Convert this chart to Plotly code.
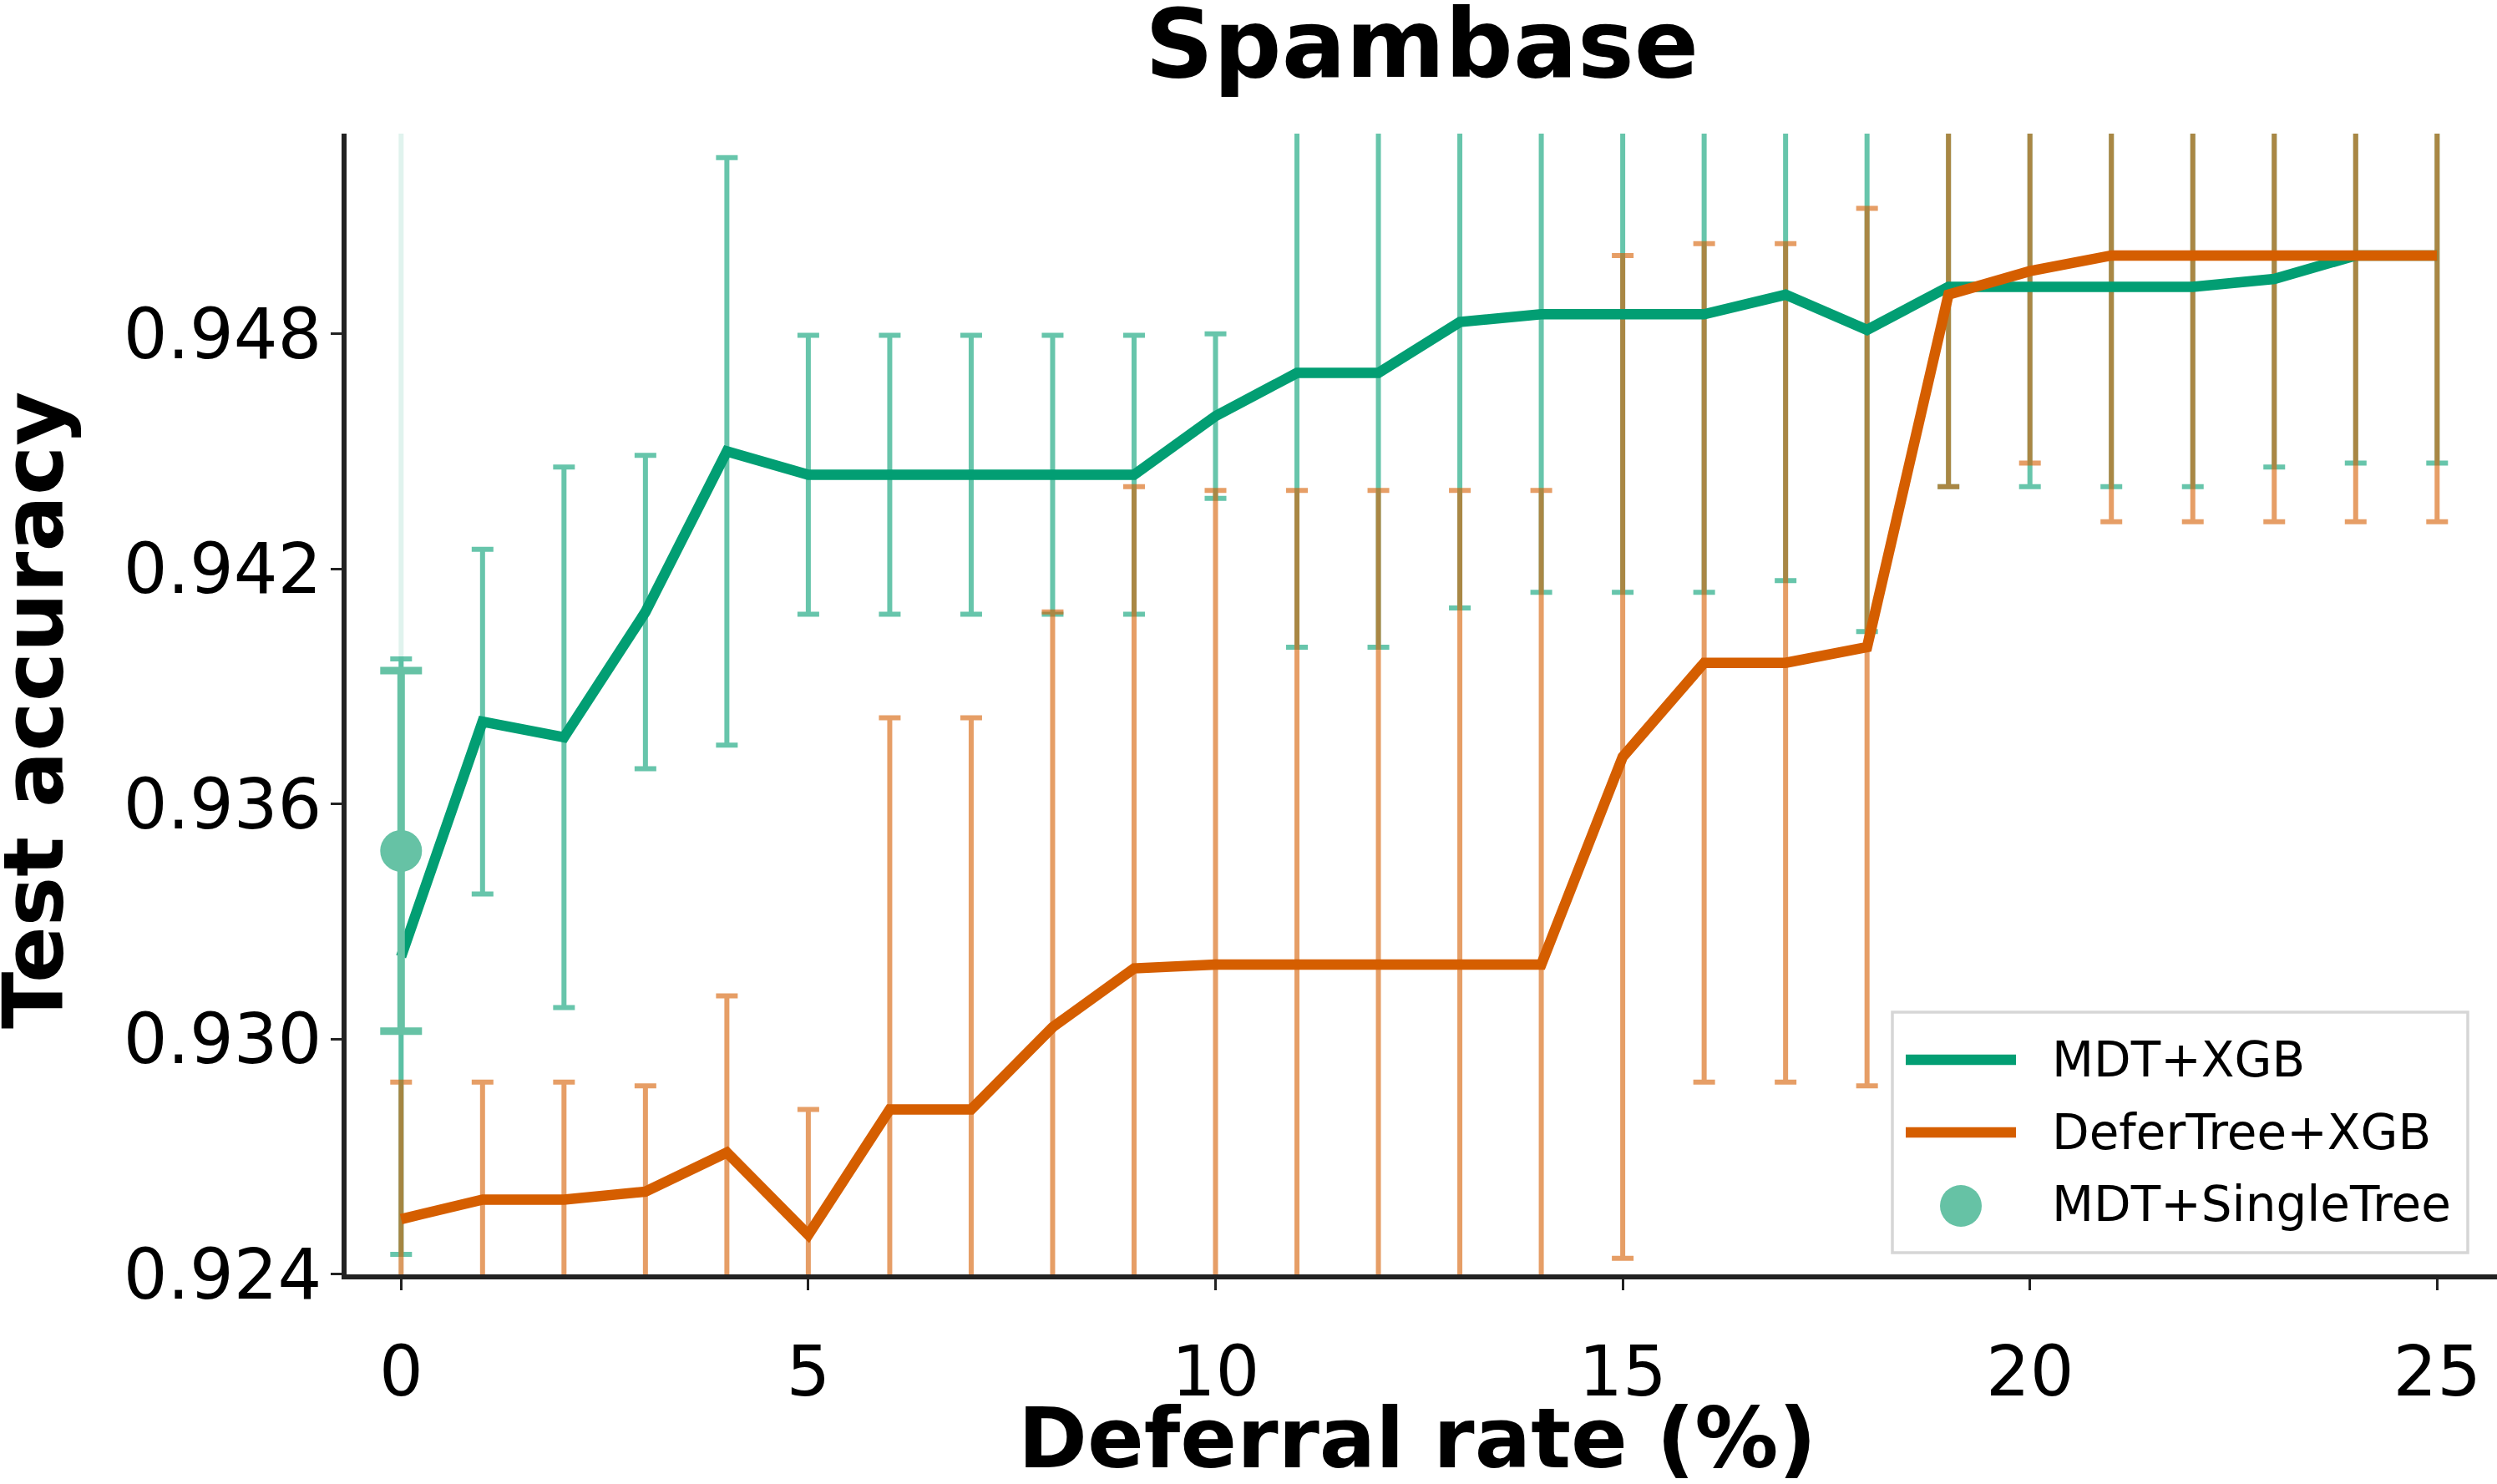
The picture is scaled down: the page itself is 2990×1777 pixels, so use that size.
import plotly.graph_objects as go

# ---------------- data ----------------
deferral_rate = list(range(26))

mdt_xgb_mean = [0.9321, 0.9381, 0.9377, 0.9409, 0.9450, 0.9444, 0.9444, 0.9444, 0.9444, 0.9444,
                0.9459, 0.9470, 0.9470, 0.9483, 0.9485, 0.9485, 0.9485, 0.9490, 0.9481, 0.9492,
                0.9492, 0.9492, 0.9492, 0.9494, 0.9500, 0.9500]
mdt_xgb_std = [0.0076, 0.0044, 0.0069, 0.0040, 0.0075, 0.00356, 0.00356, 0.00356, 0.00356, 0.00356,
               0.0021, 0.0070, 0.0070, 0.0073, 0.0071, 0.0071, 0.0071, 0.0073, 0.0077, 0.0051,
               0.0051, 0.0051, 0.0051, 0.0048, 0.0053, 0.0053]

defertree_xgb_mean = [0.9254, 0.9259, 0.9259, 0.9261, 0.9271, 0.9250, 0.9282, 0.9282, 0.9303, 0.9318,
                      0.9319, 0.9319, 0.9319, 0.9319, 0.9319, 0.9372, 0.9396, 0.9396, 0.9400, 0.9490,
                      0.9496, 0.9500, 0.9500, 0.9500, 0.9500, 0.9500]
defertree_xgb_std = [0.0035, 0.0030, 0.0030, 0.0027, 0.0040, 0.0032, 0.0100, 0.0100, 0.0106, 0.0123,
                     0.0121, 0.0121, 0.0121, 0.0121, 0.0121, 0.0128, 0.0107, 0.0107, 0.0112, 0.0049,
                     0.0049, 0.0068, 0.0068, 0.0068, 0.0068, 0.0068]

single_tree_x = [0]
single_tree_mean = [0.9348]
single_tree_std = [0.0046]

reference_line_x = 0

y_tick_vals = [0.924, 0.930, 0.936, 0.942, 0.948]
y_tick_text = ["0.924", "0.930", "0.936", "0.942", "0.948"]
x_tick_vals = [0, 5, 10, 15, 20, 25]
x_tick_text = ["0", "5", "10", "15", "20", "25"]

series_names = ["MDT+XGB", "DeferTree+XGB", "MDT+SingleTree"]
x_title = "Deferral rate (%)"
y_title = "Test accuracy"
chart_title = "Spambase"

# ---------------- style ----------------
GREEN = "#029e73"
ORANGE = "#d55e00"
GREEN_ERR = "rgba(2,158,115,0.6)"
ORANGE_ERR = "rgba(213,94,0,0.6)"
SINGLE = "#66c2a5"
FONT = "DejaVu Sans"
AXC = "#222222"

W, H = 2990, 1777
L, R, T, B = 415, 2990, 160, 1526          # plot area (pixels)
X0_PX, X_SCALE = 480.3, 97.52               # pixel of x=0, px per unit
Y0_PX, Y_SCALE = 1526.0, 46925.0            # pixel of y=0.924, px per unit

x_range = [(L - X0_PX) / X_SCALE, (R - X0_PX) / X_SCALE]
y_range = [0.924 - 0.5 / Y_SCALE, 0.924 + (Y0_PX - T) / Y_SCALE]


def px(xp):
    return (xp - L) / (R - L)


def py(yp):
    return (B - yp) / (B - T)


fig = go.Figure()

# error bars (drawn beneath lines)
fig.add_trace(go.Scatter(
    x=deferral_rate, y=mdt_xgb_mean, mode="markers",
    marker=dict(size=1, color="rgba(0,0,0,0)"),
    error_y=dict(type="data", array=mdt_xgb_std, symmetric=True,
                 color=GREEN_ERR, thickness=6, width=13),
    showlegend=False, hoverinfo="skip"))
fig.add_trace(go.Scatter(
    x=deferral_rate, y=defertree_xgb_mean, mode="markers",
    marker=dict(size=1, color="rgba(0,0,0,0)"),
    error_y=dict(type="data", array=defertree_xgb_std, symmetric=True,
                 color=ORANGE_ERR, thickness=6, width=13),
    showlegend=False, hoverinfo="skip"))

# mean lines
fig.add_trace(go.Scatter(
    x=deferral_rate, y=mdt_xgb_mean, mode="lines", name=series_names[0],
    line=dict(color=GREEN, width=12.5), showlegend=False))
fig.add_trace(go.Scatter(
    x=deferral_rate, y=defertree_xgb_mean, mode="lines", name=series_names[1],
    line=dict(color=ORANGE, width=12.5), showlegend=False))

# single tree point
fig.add_trace(go.Scatter(
    x=single_tree_x, y=single_tree_mean, mode="markers", name=series_names[2],
    marker=dict(size=50, color=SINGLE),
    error_y=dict(type="data", array=single_tree_std, symmetric=True,
                 color=SINGLE, thickness=9, width=25),
    showlegend=False))

# faint reference line at x=0
fig.add_shape(type="line", xref="x", yref="paper", x0=reference_line_x, x1=reference_line_x,
              y0=0, y1=1, line=dict(color="rgba(2,158,115,0.12)", width=6), layer="below")

# ---------------- legend (drawn manually) ----------------
fig.add_shape(type="rect", xref="paper", yref="paper",
              x0=px(2266), x1=px(2955), y0=py(1500), y1=py(1212),
              line=dict(color="#d6d6d6", width=3.5), fillcolor="rgba(255,255,255,0.8)",
              layer="above")
fig.add_shape(type="line", xref="paper", yref="paper",
              x0=px(2282), x1=px(2414), y0=py(1269), y1=py(1269),
              line=dict(color=GREEN, width=12.5), layer="above")
fig.add_shape(type="line", xref="paper", yref="paper",
              x0=px(2282), x1=px(2414), y0=py(1356), y1=py(1356),
              line=dict(color=ORANGE, width=12.5), layer="above")
fig.add_shape(type="circle", xref="paper", yref="paper",
              x0=px(2323), x1=px(2373), y0=py(1469), y1=py(1419),
              fillcolor=SINGLE, line=dict(width=0), layer="above")
for name, yp in zip(series_names, [1269, 1356, 1442]):
    fig.add_annotation(text=name, xref="paper", yref="paper", x=px(2455), y=py(yp),
                       xanchor="left", yanchor="middle", showarrow=False,
                       font=dict(family=FONT, size=58, color="black"))

# ---------------- axis titles ----------------
fig.add_annotation(text=x_title, xref="paper", yref="paper", x=px(1697), y=py(1672),
                   xanchor="center", yanchor="middle", yshift=-50, showarrow=False,
                   font=dict(family=FONT, size=100, color="black", weight="bold"))
fig.add_annotation(text=y_title, xref="paper", yref="paper", x=px(40), y=py(851),
                   xanchor="center", yanchor="middle", showarrow=False, textangle=-90,
                   font=dict(family=FONT, size=100, color="black", weight="bold"))

fig.update_layout(
    width=W, height=H,
    margin=dict(l=L, r=W - R, t=T, b=H - B, pad=0, autoexpand=False),
    paper_bgcolor="white", plot_bgcolor="white",
    font=dict(family=FONT, color="black"),
    title=dict(text=chart_title, x=0.5, xref="paper", xanchor="center",
               y=1 - 52 / H, yref="container", yanchor="middle",
               font=dict(family=FONT, size=114, color="black", weight="bold")),
    showlegend=False,
)
fig.update_xaxes(
    range=x_range, tickmode="array", tickvals=x_tick_vals, ticktext=x_tick_text,
    showgrid=False, zeroline=False, showline=True, linecolor=AXC, linewidth=6,
    ticks="outside", ticklen=13, tickwidth=3, tickcolor=AXC, automargin=False,
    tickfont=dict(family=FONT, size=83, color="black"), ticklabelstandoff=26,
)
fig.update_yaxes(
    range=y_range, tickmode="array", tickvals=y_tick_vals, ticktext=y_tick_text,
    showgrid=False, zeroline=False, showline=True, linecolor=AXC, linewidth=6,
    ticks="outside", ticklen=13, tickwidth=3, tickcolor=AXC, automargin=False,
    tickfont=dict(family=FONT, size=83, color="black"), ticklabelstandoff=-6,
)

fig.write_html("out.html")
